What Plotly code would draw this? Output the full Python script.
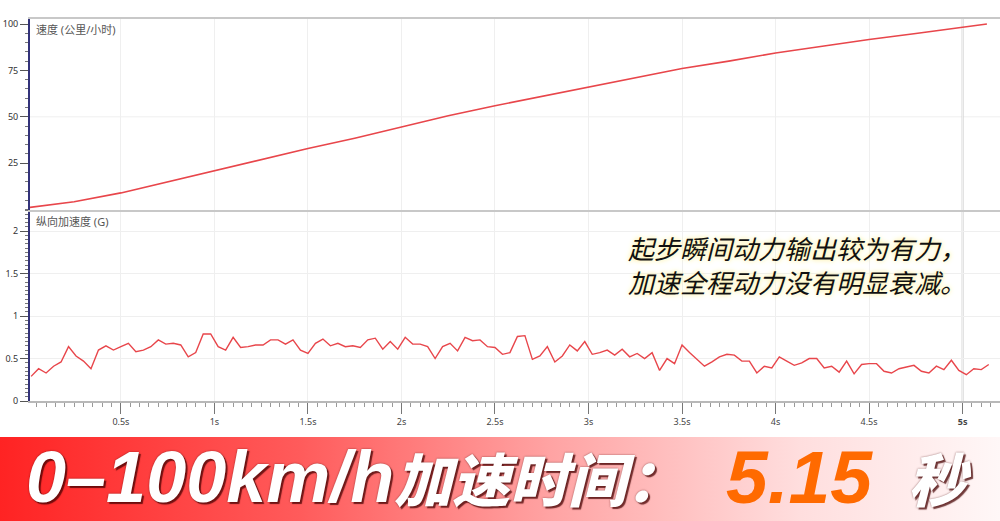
import base64
import numpy as np
import plotly.graph_objs as go

# speed trace, km/h
speed_t = [0, 0.25, 0.5, 0.75, 1.0, 1.25, 1.5, 1.75, 2.0, 2.25, 2.5, 2.75,
           3.0, 3.25, 3.5, 3.75, 4.0, 4.25, 4.5, 4.75, 5.0, 5.13]
speed_kmh = [1.0, 4.2, 9.0, 15.0, 21.2, 27.0, 32.9, 38.5, 44.7, 50.6, 56.0, 61.0,
             66.4, 71.4, 76.0, 80.0, 84.4, 88.0, 91.7, 94.9, 98.2, 100.0]

# longitudinal acceleration (G), one sample every 0.04 s starting at 0.02 s
accel_t0 = 0.02
accel_dt = 0.04
accel_g = [0.29, 0.38, 0.33, 0.41, 0.46, 0.64, 0.53, 0.47, 0.38, 0.60,
           0.65, 0.60, 0.64, 0.68, 0.58, 0.60, 0.64, 0.72, 0.67, 0.68,
           0.66, 0.52, 0.57, 0.79, 0.79, 0.64, 0.60, 0.75, 0.63, 0.64,
           0.66, 0.66, 0.72, 0.72, 0.67, 0.72, 0.60, 0.56, 0.68, 0.73,
           0.65, 0.68, 0.64, 0.65,
           0.63, 0.72, 0.74, 0.61, 0.70, 0.61, 0.75, 0.67, 0.67, 0.64,
           0.50, 0.64, 0.68, 0.59, 0.75, 0.71, 0.72, 0.64, 0.63, 0.55,
           0.57, 0.76, 0.77, 0.49, 0.53, 0.64, 0.46, 0.53, 0.66, 0.59,
           0.70, 0.55, 0.57, 0.60, 0.54, 0.61, 0.52, 0.56, 0.50, 0.57,
           0.36, 0.50, 0.44,
           0.66, 0.57, 0.49, 0.41, 0.46, 0.52, 0.55, 0.54, 0.47, 0.47,
           0.33, 0.41, 0.39, 0.52, 0.47, 0.42, 0.45, 0.50, 0.50, 0.39,
           0.41, 0.34, 0.47, 0.32, 0.43, 0.44, 0.44, 0.35, 0.33, 0.38,
           0.40, 0.42, 0.35, 0.33, 0.41, 0.37, 0.48, 0.36, 0.31, 0.38,
           0.37, 0.43]
accel_t = accel_t0 + accel_dt * np.arange(len(accel_g))

x_tickvals = [0.5, 1, 1.5, 2, 2.5, 3, 3.5, 4, 4.5, 5]
x_ticktext = ['0.5s', '1s', '1.5s', '2s', '2.5s', '3s', '3.5s', '4s', '4.5s', '<b>5s</b>']
speed_ticks = [25, 50, 75, 100]
accel_ticks = [0, 0.5, 1, 1.5, 2]
accel_ticktext = ['0', '0.5', '1', '1.5', '2']

W, H = 1000, 521
L, R, T, B = 30, 0, 19, 120
PW, PH = W - L - R, H - T - B


def px(x):
    return (x - L) / PW


def py(y):
    return (H - B - y) / PH


LINE = '#e8464b'
FONT = 'Noto Sans, Noto Sans CJK SC, sans-serif'

fig = go.Figure()
fig.add_trace(go.Scatter(x=speed_t, y=speed_kmh, mode='lines', xaxis='x2', yaxis='y2',
                         line=dict(color=LINE, width=1.6), name='速度'))
fig.add_trace(go.Scatter(x=accel_t, y=accel_g, mode='lines', xaxis='x', yaxis='y',
                         line=dict(color=LINE, width=1.4), name='纵向加速度'))

xrange = [0.014, 5.2]
fig.update_layout(
    width=W, height=H,
    margin=dict(l=L, r=R, t=T, b=B),
    paper_bgcolor='white', plot_bgcolor='white',
    showlegend=False,
    font=dict(family=FONT, size=9, color='#333'),
    xaxis=dict(domain=[0, 1], anchor='y', range=xrange, automargin=False,
               tickvals=x_tickvals, ticktext=x_ticktext,
               ticks='outside', ticklen=11, tickcolor='#777', tickwidth=1,
               minor=dict(dtick=0.05, tick0=0, ticks='outside', ticklen=4,
                          tickcolor='#999', showgrid=False),
               showline=True, linecolor='#b8b8b8', linewidth=2,
               showgrid=True, gridcolor='#efefef', gridwidth=1,
               zeroline=False, tickfont=dict(size=9, color='#444')),
    xaxis2=dict(domain=[0, 1], anchor='y2', range=xrange, matches='x', automargin=False,
                tickvals=x_tickvals, showticklabels=False, ticks='',
                showline=True, mirror=True, linecolor='#c8c8c8', linewidth=2,
                showgrid=True, gridcolor='#efefef', zeroline=False),
    yaxis=dict(domain=[0, 0.5], anchor='x', range=[0, 2.25], automargin=False,
               tickvals=accel_ticks, ticktext=accel_ticktext,
               ticks='outside', ticklen=8, tickcolor='#555',
               minor=dict(dtick=0.05, tick0=0, ticks='outside', ticklen=3,
                          tickcolor='#777', showgrid=False),
               showline=True, linecolor='#33337a', linewidth=2,
               showgrid=True, gridcolor='#efefef', zeroline=False,
               tickfont=dict(size=9, color='#333')),
    yaxis2=dict(domain=[0.501, 1], anchor='x2', range=[0, 102.7], automargin=False,
                tickvals=speed_ticks,
                ticks='outside', ticklen=8, tickcolor='#555',
                minor=dict(dtick=5, tick0=0, ticks='outside', ticklen=3,
                           tickcolor='#777', showgrid=False),
                showline=True, linecolor='#33337a', linewidth=2,
                showgrid=False, zeroline=False,
                tickfont=dict(size=9, color='#333')),
)

# lone gridline at 50 km/h and the 5 s cursor
fig.add_shape(type='line', xref='x2 domain', yref='y2', x0=0, x1=1, y0=50, y1=50,
              line=dict(color='#efefef', width=1), layer='below')
fig.add_shape(type='line', xref='x', yref='paper', x0=5, x1=5, y0=0, y1=1,
              line=dict(color='#d0d0d0', width=2), layer='below')

# panel captions
fig.add_annotation(text='速度 (公里/小时)', xref='paper', yref='paper',
                   x=px(34), y=py(30), xanchor='left', yanchor='middle', showarrow=False,
                   font=dict(size=11, color='#555'))
fig.add_annotation(text='纵向加速度 (G)', xref='paper', yref='paper',
                   x=px(34), y=py(222), xanchor='left', yanchor='middle', showarrow=False,
                   font=dict(size=11, color='#555'))

# comment in the lower panel
fig.add_annotation(text='起步瞬间动力输出较为有力，<br>加速全程动力没有明显衰减。',
                   xref='paper', yref='paper', x=px(626), y=py(264),
                   xanchor='left', yanchor='middle', showarrow=False, align='left',
                   font=dict(family='Noto Sans CJK SC', size=26, color='#111', style='italic',
                             shadow='0 0 4px #fff3a8, 0 0 6px #fff6c0'))

# banner background, horizontal red-to-white gradient
svg = ('<svg xmlns="http://www.w3.org/2000/svg" width="1000" height="84" '
       'preserveAspectRatio="none"><defs><linearGradient id="g" x1="0" x2="1" y1="0" y2="0">'
       '<stop offset="0" stop-color="#ff2323"/><stop offset="0.3" stop-color="#ff5b5b"/>'
       '<stop offset="0.55" stop-color="#ffa3a3"/><stop offset="0.8" stop-color="#ffdede"/>'
       '<stop offset="1" stop-color="#fff7f7"/></linearGradient></defs>'
       '<rect width="1000" height="84" fill="url(#g)"/></svg>')
fig.add_layout_image(source='data:image/svg+xml;base64,' + base64.b64encode(svg.encode()).decode(),
                     xref='paper', yref='paper', x=px(0), y=py(437),
                     sizex=W / PW, sizey=84 / PH, xanchor='left', yanchor='top',
                     sizing='stretch', layer='below')

shadow = '2px 2px 1px rgba(70,0,0,0.75), 0 0 2px rgba(70,0,0,0.6)'
banner_y = py(477)
fig.add_annotation(text='0–100km/h', xref='paper', yref='paper', x=px(24), y=banner_y,
                   xanchor='left', yanchor='middle', showarrow=False,
                   font=dict(family='Liberation Sans, Arial', size=72, color='white',
                             weight=900, style='italic', shadow=shadow))
fig.add_annotation(text='加速时间：', xref='paper', yref='paper', x=px(392), y=banner_y,
                   xanchor='left', yanchor='middle', showarrow=False,
                   font=dict(family='Noto Sans CJK SC', size=58, color='white',
                             weight=900, style='italic', shadow=shadow))
fig.add_annotation(text='5.15', xref='paper', yref='paper', x=px(724), y=banner_y,
                   xanchor='left', yanchor='middle', showarrow=False,
                   font=dict(family='Liberation Sans, Arial', size=75, color='#ff6a00',
                             weight=900, style='italic'))
fig.add_annotation(text='秒', xref='paper', yref='paper', x=px(906), y=banner_y,
                   xanchor='left', yanchor='middle', showarrow=False,
                   font=dict(family='Noto Sans CJK SC', size=58, color='white',
                             weight=900, style='italic', shadow=shadow))

# drop the default page margin so the figure sits at the window's corner
fig.write_html('out.html', config={'displayModeBar': False},
               post_script="document.body.style.margin='0';")
